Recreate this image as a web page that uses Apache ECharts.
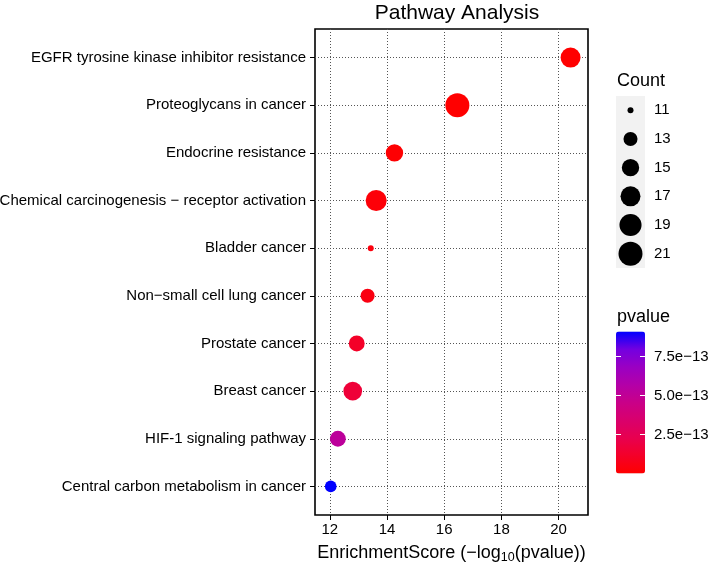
<!DOCTYPE html>
<html style="height: 100%">
<head>
<meta charset="utf-8">
<script src="https://cdn.jsdelivr.net/npm/echarts@6/dist/echarts.min.js"></script>
</head>
<body style="height: 100%; margin: 0; background: #fff">
<div id="container" style="width: 709px; height: 562px"></div>
<script type="text/javascript">
// pathways, top to bottom
var pathways = [
    'EGFR tyrosine kinase inhibitor resistance',
    'Proteoglycans in cancer',
    'Endocrine resistance',
    'Chemical carcinogenesis \u2212 receptor activation',
    'Bladder cancer',
    'Non\u2212small cell lung cancer',
    'Prostate cancer',
    'Breast cancer',
    'HIF-1 signaling pathway',
    'Central carbon metabolism in cancer'
];
var enrichScore = [20.42, 16.46, 14.26, 13.62, 13.43, 13.32, 12.94, 12.80, 12.28, 12.03];
var counts = [17, 21, 15, 18, 11, 13, 14, 16, 14, 12];
var pvalues = [3.8e-21, 3.5e-17, 5.5e-15, 2.4e-14, 3.7e-14, 4.8e-14, 1.15e-13, 1.6e-13, 5.2e-13, 9.1e-13];

var xTicks = [12, 14, 16, 18, 20];
var countBreaks = [11, 13, 15, 17, 19, 21];
var pvalueBreaks = [2.5e-13, 5.0e-13, 7.5e-13];

var font = 'Liberation Sans, Arial, Helvetica, sans-serif';
var pMin = Math.min.apply(null, pvalues);
var pMax = Math.max.apply(null, pvalues);

// point diameter for a gene count (same scale as the legend)
function dotSize(c) {
    return 6 + 18 * Math.sqrt((c - 11) / 10);
}

var mainData = pathways.map(function (name, i) {
    return [enrichScore[i], i, counts[i], pvalues[i]];
});
var legendData = countBreaks.map(function (c) {
    return [0.5, String(c), c];
});

var rowIdx = pathways.map(function (n, i) { return i; });

var myChart = echarts.init(document.getElementById('container'));
var option = {
    backgroundColor: '#fff',
    animation: false,
    textStyle: { fontFamily: font },
    title: [
        { text: 'Pathway Analysis', left: 452, top: -2, textAlign: 'center',
          textStyle: { fontSize: 21, fontWeight: 'normal', color: '#000', fontFamily: font } },
        { text: 'Count', left: 612, top: 67,
          textStyle: { fontSize: 18, fontWeight: 'normal', color: '#000', fontFamily: font } },
        { text: 'pvalue', left: 612, top: 303,
          textStyle: { fontSize: 18, fontWeight: 'normal', color: '#000', fontFamily: font } }
    ],
    grid: [
        { left: 315, top: 29, width: 273, height: 486, show: true, outerBoundsMode: 'none',
          borderColor: '#000', borderWidth: 1.6, backgroundColor: '#fff' },
        { left: 616, top: 96, width: 29, height: 172, show: true, outerBoundsMode: 'none',
          borderWidth: 0, backgroundColor: '#F2F2F2' },
        { left: 616, top: 331.5, width: 29, height: 142, show: false, outerBoundsMode: 'none' }
    ],
    xAxis: [
        {
            type: 'value', gridIndex: 0, min: 11.48, max: 21.03,
            name: '{a|EnrichmentScore (\u2212log}{s|10}{a|(pvalue))}',
            nameLocation: 'middle', nameGap: 27,
            nameTextStyle: {
                rich: {
                    a: { fontSize: 18, color: '#000', fontFamily: font, lineHeight: 22 },
                    s: { fontSize: 12.5, color: '#000', fontFamily: font, lineHeight: 22, verticalAlign: 'bottom' }
                }
            },
            axisLine: { show: false, onZero: false },
            axisTick: { show: true, length: 5, customValues: xTicks, lineStyle: { color: '#000', width: 1 } },
            axisLabel: { customValues: xTicks, fontSize: 15, color: '#000', margin: 7 },
            splitLine: { show: true, lineStyle: { color: '#555', type: [1, 2], width: 1 } }
        },
        { type: 'value', gridIndex: 1, min: 0, max: 1, show: false, axisLine: { onZero: false } },
        { type: 'value', gridIndex: 2, min: 0, max: 1, show: false, axisLine: { onZero: false } }
    ],
    yAxis: [
        {
            type: 'value', gridIndex: 0, min: -0.6, max: 9.6, inverse: true,
            axisLine: { show: false, onZero: false },
            axisTick: { show: true, length: 5, customValues: rowIdx, lineStyle: { color: '#000', width: 1 } },
            axisLabel: {
                customValues: rowIdx, fontSize: 15, color: '#000', margin: 9,
                formatter: function (v) { return pathways[Math.round(v)]; }
            },
            splitLine: { show: true, lineStyle: { color: '#555', type: [1, 2], width: 1 } }
        },
        {
            type: 'category', gridIndex: 1, inverse: true, position: 'right',
            data: countBreaks.map(String),
            axisLine: { show: false, onZero: false }, axisTick: { show: false },
            axisLabel: { fontSize: 15, color: '#000', margin: 9 }
        },
        {
            type: 'value', gridIndex: 2, position: 'right', min: pMin, max: pMax, z: 10,
            axisLine: { show: false, onZero: false },
            axisTick: { show: true, inside: true, length: 5, customValues: pvalueBreaks, lineStyle: { color: '#fff', width: 1 } },
            axisLabel: {
                customValues: pvalueBreaks, fontSize: 15, color: '#000', margin: 9,
                formatter: function (v) { return (v * 1e13).toFixed(1) + 'e\u221213'; }
            },
            splitLine: { show: false }
        },
        {
            type: 'value', gridIndex: 2, position: 'left', min: pMin, max: pMax, z: 10,
            axisLine: { show: false, onZero: false },
            axisTick: { show: true, inside: true, length: 5, customValues: pvalueBreaks, lineStyle: { color: '#fff', width: 1 } },
            axisLabel: { show: false },
            splitLine: { show: false }
        }
    ],
    visualMap: {
        type: 'continuous',
        seriesIndex: 0,
        dimension: 3,
        min: pMin,
        max: pMax,
        orient: 'vertical',
        left: 616, top: 331.5,
        itemWidth: 29, itemHeight: 142,
        padding: 0,
        calculable: false,
        hoverLink: false,
        text: null,
        inRange: {
            color: ['#FF0000', '#F40028', '#E8004F', '#D9006C', '#C90088', '#B300A8', '#9A00C3', '#7300E0', '#0000FF']
        }
    },
    series: [
        {
            type: 'scatter', xAxisIndex: 0, yAxisIndex: 0,
            data: mainData,
            symbolSize: function (v) { return dotSize(v[2]); },
            itemStyle: { opacity: 1 },
            z: 5
        },
        {
            type: 'scatter', xAxisIndex: 1, yAxisIndex: 1,
            data: legendData,
            symbolSize: function (v) { return dotSize(v[2]); },
            itemStyle: { color: '#000', opacity: 1 }
        }
    ]
};
myChart.setOption(option);
</script>
</body>
</html>
